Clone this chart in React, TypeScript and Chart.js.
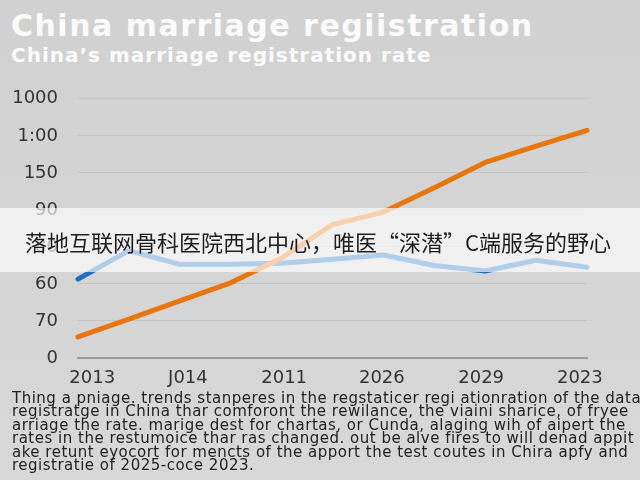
import { useEffect, useRef } from "react";
import { Chart, registerables } from "chart.js";

Chart.register(...registerables);

// x labels as printed under the axis, and where they sit on the point index scale
const xLabels = ["2013", "J014", "2011", "2026", "2029", "2023"];
const xLabelSpots = [0.28, 2.16, 4.05, 5.97, 7.92, 9.86];

// y labels as printed, one per gridline from the bottom
const yTickLabels = ["0", "70", "60", "80", "90", "150", "1:00", "1000"];

// series, in gridline units
const orangeSeries = [0.57, 1.05, 1.54, 2.03, 2.7, 3.6, 3.94, 4.6, 5.28, 5.72, 6.15];
const blueSeries = [2.13, 2.9, 2.53, 2.53, 2.56, 2.67, 2.78, 2.5, 2.35, 2.64, 2.45];

const bodyLines = [
  "Thing a pniage. trends stanperes in the regstaticer regi ationration of the data",
  "registratge in China thar comforont the rewilance, the viaini sharice, of fryee",
  "arriage the rate. marige dest for chartas, or Cunda, alaging wih of aipert the",
  "rates in the restumoice thar ras changed. out be alve fires to will denad appit",
  "ake retunt eyocort for mencts of the apport the test coutes in Chira apfy and",
  "registratie of 2025-coce 2023.",
];

const bannerText = "落地互联网骨科医院西北中心，唯医“深潜”C端服务的野心";

function LineChart() {
  const chartRef = useRef<HTMLCanvasElement>(null);
  const chartInstance = useRef<Chart | null>(null);

  useEffect(() => {
    if (!chartRef.current) return;
    const ctx = chartRef.current.getContext("2d");
    if (!ctx) return;

    const toPoints = (arr: number[]) => arr.map((y, i) => ({ x: i, y }));

    chartInstance.current = new Chart(ctx, {
      type: "line",
      data: {
        datasets: [
          {
            label: "orange",
            data: toPoints(orangeSeries),
            borderColor: "#e8760f",
            borderWidth: 5,
            borderCapStyle: "round",
            borderJoinStyle: "round",
            pointRadius: 0,
            clip: false,
          },
          {
            label: "blue",
            data: toPoints(blueSeries),
            borderColor: "#1c6fc2",
            borderWidth: 5,
            borderCapStyle: "round",
            borderJoinStyle: "round",
            pointRadius: 0,
            clip: false,
          },
        ],
      },
      options: {
        animation: false,
        responsive: true,
        maintainAspectRatio: false,
        layout: { padding: { top: 18, right: 53, left: 0, bottom: 0 } },
        plugins: {
          legend: { display: false },
          tooltip: { enabled: false },
        },
        scales: {
          x: {
            type: "linear",
            min: 0,
            max: 10,
            afterBuildTicks: (scale: any) => {
              scale.ticks = xLabelSpots.map((v) => ({ value: v }));
            },
            afterFit: (scale: any) => {
              scale.height = 32;
            },
            grid: { display: false, drawTicks: false },
            border: { display: true, color: "#9c9c9c", width: 2 },
            ticks: {
              autoSkip: false,
              maxRotation: 0,
              padding: 10,
              color: "#333",
              font: { family: "DejaVu Sans", size: 18 },
              callback: (_v: any, i: number) => xLabels[i],
            },
          },
          y: {
            min: 0,
            max: 7,
            afterFit: (scale: any) => {
              scale.width = 78;
            },
            grid: { color: "#c4c4c4", lineWidth: 1, drawTicks: false },
            border: { display: false },
            ticks: {
              stepSize: 1,
              padding: 20,
              color: "#333",
              font: { family: "DejaVu Sans", size: 18 },
              callback: (v: any) => yTickLabels[v],
            },
          },
        },
      },
    });

    return () => chartInstance.current?.destroy();
  }, []);

  return <canvas ref={chartRef} />;
}

export default function App() {
  useEffect(() => {
    document.body.style.margin = "0";
  }, []);

  return (
    <div
      style={{
        position: "relative",
        width: 640,
        height: 480,
        overflow: "hidden",
        background: "linear-gradient(#d1d1d1, #d8d8d8)",
      }}
    >
      <div
        style={{
          position: "absolute",
          left: 11,
          top: 11,
          color: "#fbfbfb",
          fontFamily: "'DejaVu Sans'",
          fontWeight: 700,
          fontSize: 30,
          letterSpacing: 1.5,
          lineHeight: 1,
          whiteSpace: "nowrap",
        }}
      >
        China marriage regiistration
      </div>
      <div
        style={{
          position: "absolute",
          left: 11,
          top: 45,
          color: "#fbfbfb",
          fontFamily: "'DejaVu Sans'",
          fontWeight: 700,
          fontSize: 20,
          letterSpacing: 1,
          lineHeight: 1,
          whiteSpace: "nowrap",
        }}
      >
        China’s marriage registration rate
      </div>
      <div style={{ position: "absolute", left: 0, top: 68, width: 640, height: 322 }}>
        <LineChart />
      </div>
      <div
        style={{
          position: "absolute",
          left: 0,
          top: 208,
          width: 640,
          height: 64,
          background: "rgba(255,255,255,0.66)",
          color: "#1e1e1e",
          fontFamily: "'Noto Sans CJK SC'",
          fontSize: 22,
          lineHeight: "66px",
          paddingLeft: 25,
          boxSizing: "border-box",
          whiteSpace: "nowrap",
        }}
      >
        {bannerText}
      </div>
      <div
        style={{
          position: "absolute",
          left: 12,
          top: 392,
          color: "#222",
          fontFamily: "'DejaVu Sans'",
          fontSize: 15,
          letterSpacing: 0.5,
          lineHeight: "13.4px",
          whiteSpace: "pre",
        }}
      >
        {bodyLines.join("\n")}
      </div>
    </div>
  );
}
